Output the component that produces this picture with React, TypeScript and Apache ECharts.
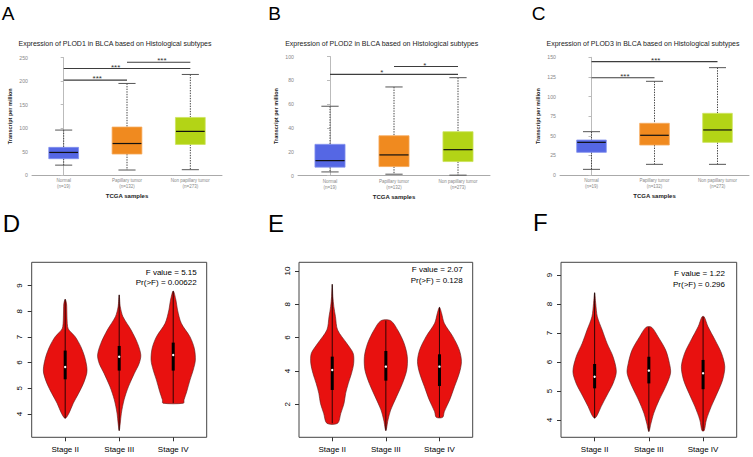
import React, { useEffect, useRef } from "react";
import * as echarts from "echarts";

// ---------- data ----------
const panelLetters = ["A", "B", "C", "D", "E", "F"];
const boxTitles = [
  "Expression of PLOD1 in BLCA based on Histological subtypes",
  "Expression of PLOD2 in BLCA based on Histological subtypes",
  "Expression of PLOD3 in BLCA based on Histological subtypes",
];
const boxCategories = ["Normal\n(n=19)", "Papillary tumor\n(n=132)", "Non papillary tumor\n(n=273)"];
const boxYMax = [250, 100, 150];
const boxYInterval = [50, 20, 25];

// [min, Q1, median, Q3, max]
const plod1Box = [
  [21, 34.7, 48, 58.8, 95.6],
  [10.6, 44.6, 67, 102, 194.8],
  [11.3, 65, 92.8, 122.5, 213.9],
];
const plod2Box = [
  [3, 7, 12.5, 26.2, 58.2],
  [1.1, 7.5, 17.3, 33.4, 74.4],
  [0.3, 11.7, 21.7, 36.8, 82.2],
];
const plod3Box = [
  [7.2, 28.9, 41.6, 44.6, 55.2],
  [13.6, 38.2, 50.6, 65.9, 119.4],
  [13.6, 41.6, 57.4, 78.6, 136.8],
];

// [from group, to group, height, star position]
const plod1Brackets = [
  [0, 1, 201.8, 0.53],
  [0, 2, 226.6, 0.82],
  [1, 2, 240, 1.55],
];
const plod1Stars = ["***", "***", "***"];
const plod2Brackets = [
  [0, 2, 85, 0.81],
  [1, 2, 91.6, 1.48],
];
const plod2Stars = ["*", "*"];
const plod3Brackets = [
  [0, 1, 124, 0.53],
  [0, 2, 144.5, 1.02],
];
const plod3Stars = ["***", "***"];

const stageNames = ["Stage II", "Stage III", "Stage IV"];
const fValues = ["F value = 5.15", "F value = 2.07", "F value = 1.22"];
const pValues = ["Pr(>F) = 0.00622", "Pr(>F) = 0.128", "Pr(>F) = 0.296"];
const violinYRange = [
  [3.09, 9.91],
  [0.02, 10.52],
  [3.4, 9.44],
];
const violinYTicks = [
  [4, 5, 6, 7, 8, 9],
  [2, 4, 6, 8, 10],
  [4, 5, 6, 7, 8, 9],
];

// [Q1, median, Q3] per stage
const plod1Stage = [
  [5.35, 5.83, 6.47],
  [5.69, 6.23, 6.65],
  [5.69, 6.3, 6.78],
];
const plod2Stage = [
  [2.86, 4.06, 4.86],
  [3.42, 4.26, 5.2],
  [3.1, 4.26, 5.0],
];
const plod3Stage = [
  [5.09, 5.49, 5.93],
  [5.26, 5.7, 6.18],
  [5.06, 5.61, 6.07],
];

// violin outlines: [value, half width] from top to bottom
const plod1Violin = [
  [[8.47, 0], [8.3, 0.025], [8.05, 0.03], [7.66, 0.035], [7.4, 0.045], [7.27, 0.07], [7.01, 0.185], [6.62, 0.29], [6.23, 0.36], [5.84, 0.4], [5.59, 0.4], [5.2, 0.34], [4.81, 0.25], [4.42, 0.15], [4.03, 0.07], [3.83, 0]],
  [[8.64, 0], [8.18, 0.02], [7.79, 0.07], [7.27, 0.22], [6.75, 0.34], [6.3, 0.4], [5.97, 0.37], [5.58, 0.28], [5.06, 0.17], [4.55, 0.09], [4.03, 0.04], [3.64, 0.02], [3.35, 0]],
  [[8.79, 0], [8.44, 0.05], [8.05, 0.08], [7.53, 0.15], [7.01, 0.31], [6.56, 0.39], [6.1, 0.41], [5.71, 0.37], [5.32, 0.31], [4.87, 0.25], [4.55, 0.2], [4.42, 0.19]],
];
const plod2Violin = [
  [[9.2, 0], [8.46, 0.012], [7.86, 0.03], [7.26, 0.06], [6.46, 0.1], [5.66, 0.27], [5.06, 0.39], [4.46, 0.4], [3.86, 0.36], [3.26, 0.3], [2.66, 0.25], [2.06, 0.22], [1.46, 0.16], [0.86, 0.1]],
  [[7.02, 0.09], [6.46, 0.22], [5.66, 0.34], [4.86, 0.4], [4.06, 0.39], [3.26, 0.31], [2.46, 0.2], [1.66, 0.09], [1.06, 0.04], [0.42, 0]],
  [[7.82, 0], [7.46, 0.04], [6.86, 0.09], [6.06, 0.25], [5.26, 0.37], [4.56, 0.41], [3.86, 0.37], [3.06, 0.28], [2.26, 0.19], [1.56, 0.09], [1.22, 0.06]],
];
const plod3Violin = [
  [[8.39, 0], [8.02, 0.02], [7.56, 0.05], [7.1, 0.14], [6.64, 0.23], [6.18, 0.34], [5.67, 0.4], [5.26, 0.34], [4.86, 0.23], [4.46, 0.12], [4.17, 0.05], [4.06, 0]],
  [[7.2, 0.05], [6.87, 0.17], [6.41, 0.31], [5.95, 0.38], [5.61, 0.4], [5.15, 0.31], [4.69, 0.19], [4.23, 0.09], [3.89, 0.04], [3.6, 0]],
  [[7.56, 0.02], [7.22, 0.09], [6.76, 0.22], [6.3, 0.34], [5.84, 0.4], [5.38, 0.36], [4.92, 0.26], [4.46, 0.15], [4.0, 0.06], [3.63, 0.02]],
];

// ---------- layout / style ----------
const boxColors = ["#5567E4", "#F08A1F", "#B3D416"];
const boxEdges = ["#8190EE", "#F6AA5C", "#CDE35C"];
const topGrids = [
  { left: 32, top: 57.5, width: 190, height: 117.5 },
  { left: 298, top: 56.5, width: 192, height: 119 },
  { left: 560, top: 57.3, width: 189, height: 117.7 },
];
const botGrids = [
  { left: 31.7, top: 262.3, width: 175, height: 175 },
  { left: 299, top: 262.3, width: 173.7, height: 175 },
  { left: 561, top: 262.3, width: 175.7, height: 175 },
];
const titleX = [115, 381.7, 643];
const letterPos = [
  [1.7, 13.4, 19],
  [268.3, 13, 19],
  [531.7, 13, 19],
  [2.7, 223, 24],
  [268, 223, 24],
  [533, 222.5, 24],
];
const fPos = [
  [196.7, 272.7, 282.3],
  [462.7, 269.3, 280],
  [725, 273.3, 284],
];
const SANS = "'Liberation Sans', Arial, sans-serif";

const boxData = [plod1Box, plod2Box, plod3Box];
const bracketData = [plod1Brackets, plod2Brackets, plod3Brackets];
const starData = [plod1Stars, plod2Stars, plod3Stars];
const stageData = [plod1Stage, plod2Stage, plod3Stage];
const violinData = [plod1Violin, plod2Violin, plod3Violin];

function renderBox(params: any, api: any) {
  const i = api.value(0);
  const lo = api.coord([i, api.value(1)]);
  const q1 = api.coord([i, api.value(2)]);
  const md = api.coord([i, api.value(3)]);
  const q3 = api.coord([i, api.value(4)]);
  const hi = api.coord([i, api.value(5)]);
  const band = api.size([1, 0])[0];
  const bw = band * 0.47;
  const cw = band * 0.27;
  const x = md[0];
  const wh = { stroke: "#444", lineWidth: 1, lineDash: [1.4, 1.2] };
  const cap = { stroke: "#555", lineWidth: 1 };
  const k = params.dataIndex;
  return {
    type: "group",
    children: [
      { type: "line", shape: { x1: x, y1: hi[1], x2: x, y2: q3[1] }, style: wh },
      { type: "line", shape: { x1: x, y1: q1[1], x2: x, y2: lo[1] }, style: wh },
      { type: "line", shape: { x1: x - cw / 2, y1: hi[1], x2: x + cw / 2, y2: hi[1] }, style: cap },
      { type: "line", shape: { x1: x - cw / 2, y1: lo[1], x2: x + cw / 2, y2: lo[1] }, style: cap },
      {
        type: "rect",
        shape: { x: x - bw / 2, y: q3[1], width: bw, height: q1[1] - q3[1] },
        style: { fill: boxColors[k], stroke: boxEdges[k], lineWidth: 0.8 },
      },
      { type: "line", shape: { x1: x - bw / 2 + 0.5, y1: md[1], x2: x + bw / 2 - 0.5, y2: md[1] }, style: { stroke: "#111", lineWidth: 1.2 } },
    ],
  };
}

function makeBracketRender(stars: string[]) {
  return (params: any, api: any) => {
    const a = api.coord([api.value(0), api.value(2)]);
    const b = api.coord([api.value(1), api.value(2)]);
    const s = api.coord([api.value(3), api.value(2)]);
    return {
      type: "group",
      children: [
        { type: "line", shape: { x1: a[0], y1: a[1], x2: b[0], y2: b[1] }, style: { stroke: "#3d3d3d", lineWidth: 1.1 } },
        {
          type: "text",
          x: s[0],
          y: s[1] + 2.6,
          style: {
            text: stars[params.dataIndex],
            fontSize: 8,
            fontFamily: SANS,
            fill: "#333",
            align: "center",
            verticalAlign: "bottom",
            textAlign: "center",
            textVerticalAlign: "bottom",
          },
        },
      ],
    };
  };
}

function makeViolinRender(profiles: number[][][]) {
  return (params: any, api: any) => {
    const k = params.dataIndex;
    const cx = api.value(0);
    const prof = profiles[k];
    const pts: number[][] = [];
    prof.forEach(([v, hw]) => pts.push(api.coord([cx + hw, v])));
    for (let j = prof.length - 1; j >= 0; j--) {
      const [v, hw] = prof[j];
      if (hw === 0) continue;
      pts.push(api.coord([cx - hw, v]));
    }
    const top = api.coord([cx, prof[0][0]]);
    const bot = api.coord([cx, prof[prof.length - 1][0]]);
    const q1 = api.coord([cx, api.value(1)]);
    const md = api.coord([cx, api.value(2)]);
    const q3 = api.coord([cx, api.value(3)]);
    return {
      type: "group",
      children: [
        { type: "polygon", shape: { points: pts, smooth: 0.3 }, style: { fill: "#E8110F", stroke: "#5a1a1a", lineWidth: 0.6 } },
        { type: "line", shape: { x1: top[0], y1: top[1], x2: bot[0], y2: bot[1] }, style: { stroke: "#000", lineWidth: 0.8 } },
        { type: "rect", shape: { x: md[0] - 1.5, y: q3[1], width: 3, height: q1[1] - q3[1] }, style: { fill: "#000" } },
        { type: "circle", shape: { cx: md[0], cy: md[1], r: 1.2 }, style: { fill: "#fff" } },
      ],
    };
  };
}

export default function App() {
  const ref = useRef<HTMLDivElement>(null);
  useEffect(() => {
    if (!ref.current) return;
    const chart = echarts.init(ref.current, null, { renderer: "svg" });

    const grid: any[] = [];
    const xAxis: any[] = [];
    const yAxis: any[] = [];
    const series: any[] = [];
    const graphic: any[] = [];

    for (let i = 0; i < 3; i++) {
      grid.push({ ...topGrids[i], show: false });
      xAxis.push({
        type: "value",
        gridIndex: i,
        min: -0.5,
        max: 2.5,
        splitLine: { show: false },
        axisTick: { show: false },
        axisLine: { show: true, lineStyle: { color: "#aaa", width: 1 } },
        axisLabel: {
          customValues: [0, 1, 2],
          formatter: (v: number) => boxCategories[Math.round(v)] || "",
          fontSize: 4.5,
          lineHeight: 6,
          color: "#888",
          margin: 2.5,
          fontFamily: SANS,
        },
        name: "TCGA samples",
        nameLocation: "middle",
        nameGap: 18,
        nameTextStyle: { fontSize: 6, fontWeight: "bold", color: "#222", fontFamily: SANS },
      });
      yAxis.push({
        type: "value",
        gridIndex: i,
        min: 0,
        max: boxYMax[i],
        interval: boxYInterval[i],
        splitLine: { show: false },
        axisLine: { show: true, lineStyle: { color: "#bbb", width: 1 } },
        axisTick: { show: true, length: 3, lineStyle: { color: "#bbb" } },
        axisLabel: { fontSize: 5.2, color: "#888", margin: 4, fontFamily: SANS },
        name: "Transcript per million",
        nameLocation: "middle",
        nameGap: 19,
        nameRotate: 90,
        nameTextStyle: { fontSize: 5.5, fontWeight: "bold", color: "#222", fontFamily: SANS },
      });
      series.push({
        type: "custom",
        xAxisIndex: i,
        yAxisIndex: i,
        silent: true,
        data: boxData[i].map((r, j) => [j, ...r]),
        encode: { x: 0, y: [1, 2, 3, 4, 5] },
        renderItem: renderBox,
      });
      series.push({
        type: "custom",
        xAxisIndex: i,
        yAxisIndex: i,
        silent: true,
        data: bracketData[i],
        encode: { x: [0, 1], y: 2 },
        renderItem: makeBracketRender(starData[i]),
      });
      graphic.push({
        type: "text",
        x: titleX[i],
        y: 43,
        style: {
          text: boxTitles[i],
          fontSize: 7,
          fontFamily: SANS,
          fill: "#222",
          align: "center",
          verticalAlign: "middle",
          textAlign: "center",
          textVerticalAlign: "middle",
        },
      });
    }

    for (let j = 0; j < 3; j++) {
      const gi = 3 + j;
      grid.push({ ...botGrids[j], show: true, borderColor: "#444", borderWidth: 1, backgroundColor: "transparent" });
      xAxis.push({
        type: "value",
        gridIndex: gi,
        min: 0.38,
        max: 3.62,
        splitLine: { show: false },
        axisLine: { show: false },
        axisTick: { show: true, customValues: [1, 2, 3], length: 4, lineStyle: { color: "#333" } },
        axisLabel: {
          customValues: [1, 2, 3],
          formatter: (v: number) => stageNames[Math.round(v) - 1] || "",
          fontSize: 8,
          color: "#000",
          margin: 8,
          fontFamily: SANS,
        },
      });
      yAxis.push({
        type: "value",
        gridIndex: gi,
        min: violinYRange[j][0],
        max: violinYRange[j][1],
        splitLine: { show: false },
        axisLine: { show: false },
        axisTick: { show: true, customValues: violinYTicks[j], length: 4, lineStyle: { color: "#333" } },
        axisLabel: {
          customValues: violinYTicks[j],
          rotate: 90,
          fontSize: 8,
          color: "#000",
          margin: 8,
          fontFamily: SANS,
        },
      });
      series.push({
        type: "custom",
        xAxisIndex: gi,
        yAxisIndex: gi,
        silent: true,
        data: stageData[j].map((s, k) => [k + 1, ...s]),
        encode: { x: 0, y: [1, 2, 3] },
        renderItem: makeViolinRender(violinData[j]),
      });
      graphic.push({
        type: "text",
        x: fPos[j][0],
        y: fPos[j][1],
        style: { text: fValues[j], fontSize: 8, fontFamily: SANS, fill: "#000", align: "right", verticalAlign: "middle", textAlign: "right", textVerticalAlign: "middle" },
      });
      graphic.push({
        type: "text",
        x: fPos[j][0],
        y: fPos[j][2],
        style: { text: pValues[j], fontSize: 8, fontFamily: SANS, fill: "#000", align: "right", verticalAlign: "middle", textAlign: "right", textVerticalAlign: "middle" },
      });
    }

    panelLetters.forEach((L, i) => {
      graphic.push({
        type: "text",
        x: letterPos[i][0],
        y: letterPos[i][1],
        style: { text: L, fontSize: letterPos[i][2], fontFamily: SANS, fill: "#000", align: "left", verticalAlign: "middle", textAlign: "left", textVerticalAlign: "middle" },
      });
    });

    chart.setOption({
      animation: false,
      backgroundColor: "#fff",
      textStyle: { fontFamily: SANS },
      grid,
      xAxis,
      yAxis,
      series,
      graphic,
    });
    return () => chart.dispose();
  }, []);
  return <div ref={ref} style={{ position: "fixed", left: 0, top: 0, width: 753, height: 457 }} />;
}
